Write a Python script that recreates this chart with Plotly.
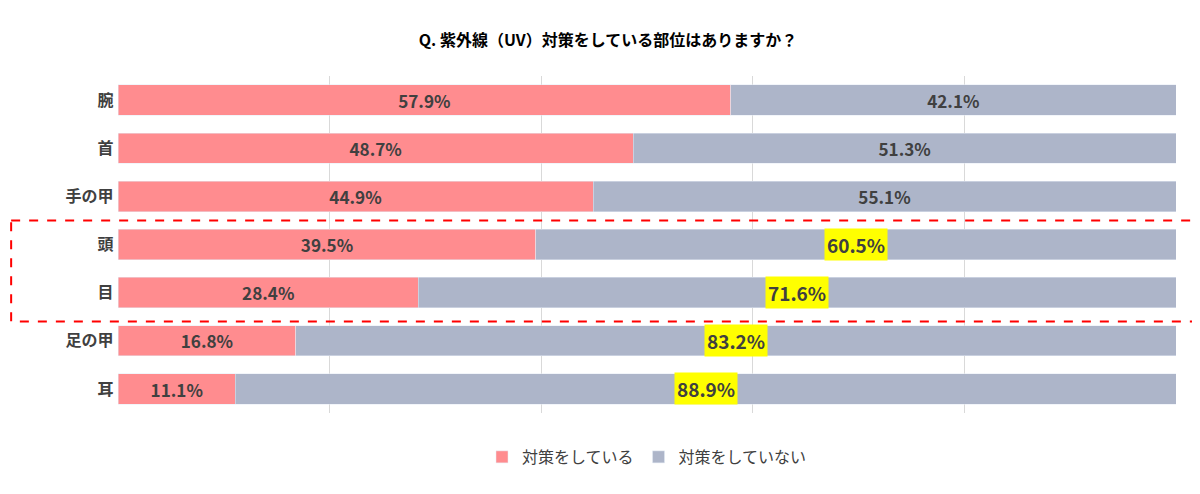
import plotly.graph_objects as go

# --- データ ---
categories = ["腕", "首", "手の甲", "頭", "目", "足の甲", "耳"]
yes_values = [57.9, 48.7, 44.9, 39.5, 28.4, 16.8, 11.1]
no_values = [42.1, 51.3, 55.1, 60.5, 71.6, 83.2, 88.9]
highlight = [False, False, False, True, True, True, True]

FONT = "Noto Sans CJK JP"
TXT = "#404040"

fig = go.Figure()

fig.add_trace(go.Bar(
    y=categories, x=yes_values, orientation="h", name="対策をしている",
    marker=dict(color="#FF8C8F"),
    text=[f"<b>{v:.1f}%</b>" for v in yes_values],
    textposition="inside", insidetextanchor="middle",
    textfont=dict(size=19, color=TXT, family=FONT),
))
fig.add_trace(go.Bar(
    y=categories, x=no_values, orientation="h", name="対策をしていない",
    marker=dict(color="#ADB5C9"),
    text=["" if h else f"<b>{v:.1f}%</b>" for v, h in zip(no_values, highlight)],
    textposition="inside", insidetextanchor="middle",
    textfont=dict(size=19, color=TXT, family=FONT),
))

# 黄色ハイライトのラベル
for c, y, n, h in zip(categories, yes_values, no_values, highlight):
    if h:
        fig.add_annotation(
            x=y + n / 2, y=c, text=f"<b>{n:.1f}%</b>", showarrow=False,
            bgcolor="#FFFF00", borderpad=2,
            font=dict(size=19, color=TXT, family=FONT),
        )

# 赤い破線の枠
fig.add_shape(
    type="rect", xref="paper", yref="y",
    x0=-0.101, x1=1.025, y0=2.5, y1=4.6,
    line=dict(color="#FF0000", width=2, dash="dash"),
)

fig.update_layout(
    title=dict(text="<b>Q. 紫外線（UV）対策をしている部位はありますか？</b>",
               x=0.5, y=0.945, xanchor="center",
               font=dict(size=16, color="#000000", family=FONT)),
    barmode="stack", bargap=0.37,
    width=1200, height=494,
    margin=dict(l=110, r=32, t=68, b=89, autoexpand=False),
    plot_bgcolor="white", paper_bgcolor="white",
    font=dict(family=FONT, color=TXT),
    xaxis=dict(range=[0, 100], dtick=20, showticklabels=False,
               showgrid=True, gridcolor="#D9D9D9", zeroline=False),
    yaxis=dict(autorange="reversed", showgrid=False, automargin=False,
               tickmode="array", tickvals=categories,
               ticktext=[f"<b>{c}</b> " for c in categories],
               tickfont=dict(size=16, color=TXT, family=FONT)),
    legend=dict(orientation="h", x=0.5, xanchor="center", y=-0.08,
                yanchor="top", traceorder="normal",
                font=dict(size=16, color=TXT, family=FONT)),
    showlegend=True,
)

fig.write_html("out.html")
